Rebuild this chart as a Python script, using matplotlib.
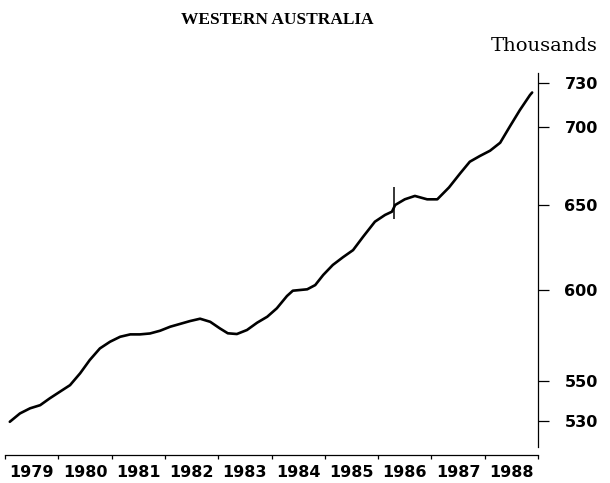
import matplotlib
matplotlib.use("Agg")
import matplotlib.pyplot as plt
from matplotlib.ticker import NullLocator, NullFormatter, FixedLocator

# Population, Western Australia (thousands)
years = [1979.09, 1979.28, 1979.47, 1979.66, 1979.84, 1980.03, 1980.22, 1980.41,
         1980.59, 1980.78, 1980.97, 1981.16, 1981.35, 1981.53, 1981.72, 1981.91,
         1982.10, 1982.28, 1982.47, 1982.66, 1982.85, 1983.03, 1983.18, 1983.35,
         1983.54, 1983.73, 1983.92, 1984.10, 1984.29, 1984.40, 1984.67, 1984.82,
         1984.97, 1985.15, 1985.34, 1985.53, 1985.72, 1985.94, 1986.13, 1986.26,
         1986.32, 1986.50, 1986.69, 1986.92, 1987.11, 1987.33, 1987.54, 1987.72,
         1987.91, 1988.10, 1988.29, 1988.47, 1988.66, 1988.85, 1988.89]
population = [529.4, 533.6, 536.2, 537.8, 541.3, 544.7, 548.1, 554.3,
              561.3, 567.5, 571.1, 573.8, 575.1, 575.1, 575.6, 577.1,
              579.3, 580.8, 582.4, 583.7, 582.0, 578.4, 575.7, 575.3,
              577.5, 581.5, 584.8, 589.5, 596.4, 599.4, 600.2, 602.6,
              608.4, 614.2, 618.7, 622.9, 630.9, 639.9, 644.0, 646.0,
              650.1, 653.6, 655.7, 653.6, 653.6, 661.0, 669.9, 677.3,
              681.0, 684.4, 689.6, 700.2, 711.3, 721.5, 723.2]

# series break marker
break_year = 1986.30
break_value = 651.2

year_labels = ["1979", "1980", "1981", "1982", "1983", "1984", "1985", "1986", "1987", "1988"]
y_ticks = [530, 550, 600, 650, 700, 730]

fig = plt.figure(figsize=(6.10, 4.83), dpi=100)
ax = fig.add_axes([0.0082, 0.0745, 0.8738, 0.7744])

ax.plot(years, population, color="black", lw=1.9,
        solid_capstyle="round", solid_joinstyle="round")
ax.plot([break_year], [break_value], marker="|", markersize=23, mew=1.1, color="black")

ax.set_yscale("log")
ax.set_ylim(516.9, 736.7)
ax.set_xlim(1979, 1989)

# y axis on the right
for s in ["left", "top"]:
    ax.spines[s].set_visible(False)
ax.spines["right"].set_linewidth(0.9)
ax.yaxis.tick_right()
ax.yaxis.set_major_locator(FixedLocator(y_ticks))
ax.yaxis.set_minor_locator(NullLocator())
ax.yaxis.set_minor_formatter(NullFormatter())
ax.set_yticklabels([str(v) for v in y_ticks])
ax.tick_params(axis="y", direction="out", length=8, width=0.9, pad=11,
               labelsize=11.5)
for lab in ax.get_yticklabels():
    lab.set_fontweight("bold")

# x axis sits a little below the plot
ax.spines["bottom"].set_position(("outward", 5.8))
ax.spines["bottom"].set_linewidth(0.9)
ax.set_xticks([1979.5 + i for i in range(10)])
ax.set_xticklabels(year_labels, fontweight="bold")
ax.set_xticks(range(1979, 1990), minor=True)
ax.tick_params(axis="x", which="major", length=0, pad=7, labelsize=11.5)
ax.tick_params(axis="x", which="minor", direction="out", length=3, width=0.9)

fig.text(0.455, 0.958, "WESTERN AUSTRALIA", ha="center", va="center",
         family="Liberation Serif", weight="bold", fontsize=12.5)
fig.text(0.98, 0.905, "Thousands", ha="right", va="center",
         family="DejaVu Serif", fontsize=14)

fig.savefig("out.png", dpi=100, facecolor="white")
